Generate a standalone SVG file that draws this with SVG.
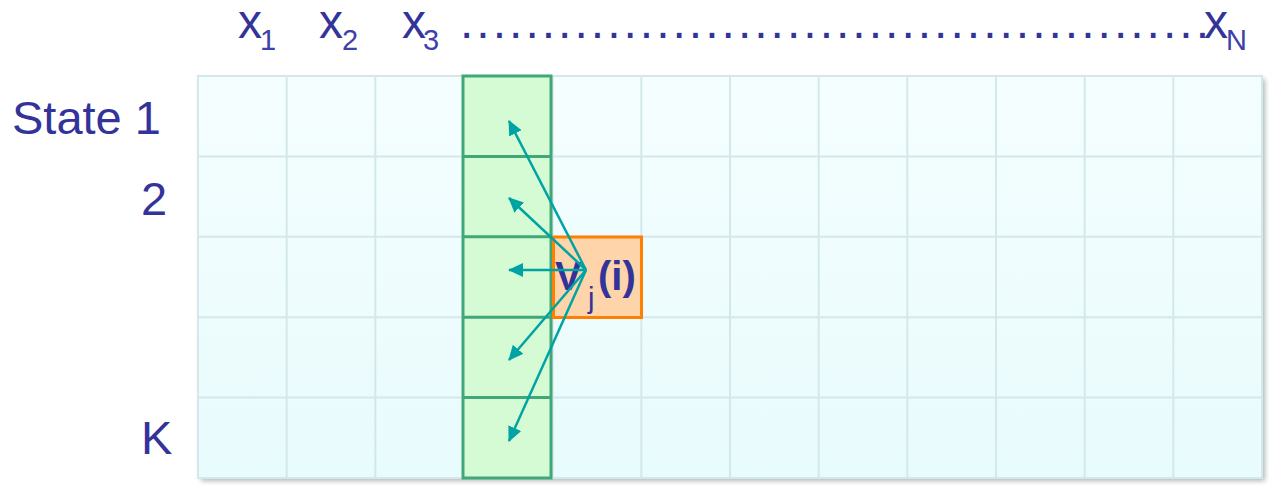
<svg xmlns="http://www.w3.org/2000/svg" width="1269" height="486" viewBox="0 0 1269 486">
<style>
.lbl{font-family:"Liberation Sans",Arial,sans-serif;fill:#333399;}
.big{font-size:48px;}
.sub{font-size:29px;fill:#4040aa;}
.st{font-size:47px;}
.grid{stroke:#d4e8ea;stroke-width:2;fill:none;}
.conn{stroke:#00a3a3;stroke-width:2.5;fill:none;marker-end:url(#ah);}
</style>
<defs>
<linearGradient id="bg" x1="0" y1="0" x2="0" y2="1">
<stop offset="0" stop-color="#f5fefe"/>
<stop offset="1" stop-color="#e8fbfd"/>
</linearGradient>
<filter id="sh" x="-5%" y="-5%" width="110%" height="115%">
<feGaussianBlur stdDeviation="2.5"/>
</filter>
<marker id="ah" markerUnits="userSpaceOnUse" markerWidth="16" markerHeight="14" refX="14" refY="7" orient="auto">
<path d="M0,0 L15,7 L0,14 Z" fill="#00a3a3"/>
</marker>
</defs>
<g id="labels">
<text class="lbl big" x="238" y="38">x</text><text class="lbl sub" x="260" y="50">1</text>
<text class="lbl big" x="319" y="38">x</text><text class="lbl sub" x="342" y="50">2</text>
<text class="lbl big" x="402" y="38">x</text><text class="lbl sub" x="423" y="50">3</text>
<text class="lbl big" x="460" y="38" textLength="749" lengthAdjust="spacing">..............................................</text>
<text class="lbl big" x="1204" y="38">x</text><text class="lbl sub" x="1226" y="50">N</text>
<text class="lbl st" x="12" y="134">State 1</text>
<text class="lbl st" x="141" y="215">2</text>
<text class="lbl st" x="141" y="454">K</text>
</g>
<g id="grid">
<rect x="201" y="79" width="1064" height="402" fill="#b0b8b8" filter="url(#sh)"/>
<rect x="198" y="76" width="1064" height="402" fill="url(#bg)" stroke="#d4e8ea" stroke-width="2"/>
<path class="grid" d="M286.7,76V478M375.3,76V478M464,76V478M552.7,76V478M641.3,76V478M730,76V478M818.7,76V478M907.3,76V478M996,76V478M1084.7,76V478M1173.3,76V478M198,156.4H1262M198,236.8H1262M198,317.2H1262M198,397.6H1262"/>
</g>
<g id="column">
<rect x="463" y="76" width="88" height="402" fill="#d5fbd5" stroke="#3fa778" stroke-width="3"/>
<path d="M463,156.4H551M463,236.8H551M463,317.2H551M463,397.6H551" stroke="#3fa778" stroke-width="3"/>
</g>
<g id="vji">
<rect x="553.5" y="237" width="88" height="80.5" fill="#fed5aa" stroke="#ff8000" stroke-width="3"/>
<text class="lbl" x="555" y="290" font-size="40" font-weight="bold">V</text>
<text class="lbl" x="588" y="308" font-size="29" fill="#4040aa">j</text>
<text class="lbl" x="598" y="290" font-size="40" font-weight="bold">(i)</text>
</g>
<g id="connectors">
<line class="conn" x1="586" y1="270" x2="509" y2="121"/>
<line class="conn" x1="586" y1="270" x2="509" y2="198"/>
<line class="conn" x1="586" y1="270" x2="509" y2="270"/>
<line class="conn" x1="586" y1="270" x2="509" y2="360"/>
<line class="conn" x1="586" y1="270" x2="509" y2="441"/>
</g>
</svg>
